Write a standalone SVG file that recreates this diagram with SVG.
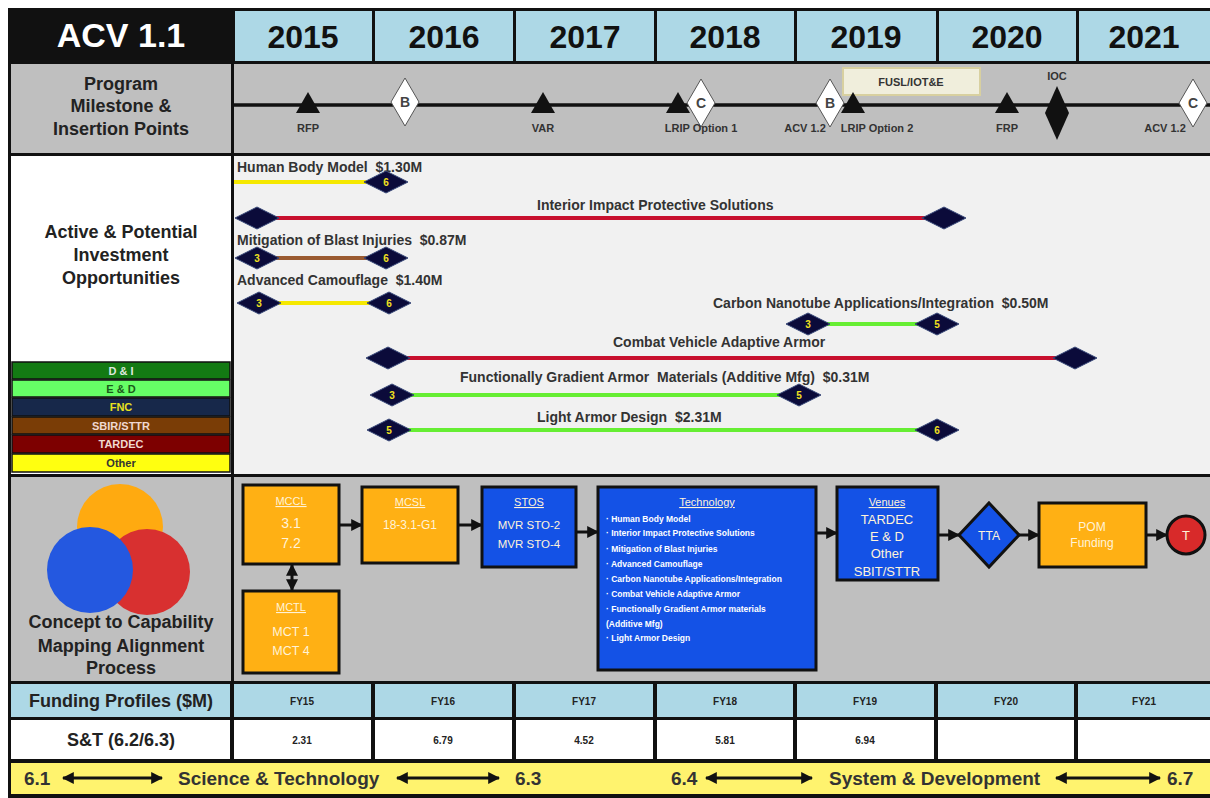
<svg xmlns="http://www.w3.org/2000/svg" width="1210" height="798" viewBox="0 0 1210 798">
<defs>
<style>
text{font-family:"Liberation Sans",Arial,sans-serif;font-weight:bold}
.yr{font-size:32px;fill:#111;text-anchor:middle}
.lbl{font-size:18px;fill:#222;text-anchor:middle}
.ms{font-size:11px;fill:#333;text-anchor:middle}
.dl{font-size:14px;fill:#444;text-anchor:middle}
.bar{font-size:14px;fill:#333;white-space:pre}
.dn{font-size:10px;fill:#f0e020;text-anchor:middle}
.leg{font-size:11px;text-anchor:middle}
.bx{fill:#ffb014;stroke:#111;stroke-width:3}
.bb{fill:#1452e6;stroke:#111;stroke-width:3}
.wt{fill:#fff3d8;text-anchor:middle;font-weight:normal}
.ww{fill:#ffffff;font-size:8.5px}
.fy{font-size:10px;fill:#222;text-anchor:middle}
.conn{stroke:#111;stroke-width:3;fill:none}
.blue{fill:#add8e6}
.grey{fill:#bfbfbf}
.ln{stroke-width:4;fill:none}
.bot{font-size:19px;fill:#333;white-space:pre}
</style>
<marker id="ah" viewBox="0 0 10 10" refX="9" refY="5" markerWidth="4" markerHeight="4" orient="auto-start-reverse"><path d="M0,0L10,5L0,10z" fill="#111"/></marker>
<polygon id="dm" points="-22,0 0,-11 22,0 0,11" fill="#0b0b3a" stroke="#3a4a7a" stroke-width="1"/>
<polygon id="tri" points="0,-12 12,9 -12,9" fill="#111"/>
<polygon id="wd" points="0,-24 14,0 0,24 -14,0" fill="#fff" stroke="#555" stroke-width="1"/>
</defs>
<rect x="0" y="0" width="1210" height="798" fill="#fff"/>
<rect x="8" y="8" width="1202" height="790" fill="#111"/>

<!-- header -->
<g id="header">
<text x="121" y="47" font-size="34" fill="#fff" text-anchor="middle">ACV 1.1</text>
<rect class="blue" x="235" y="11" width="137" height="50"/>
<rect class="blue" x="375" y="11" width="138" height="50"/>
<rect class="blue" x="516" y="11" width="138" height="50"/>
<rect class="blue" x="657" y="11" width="137" height="50"/>
<rect class="blue" x="797" y="11" width="139" height="50"/>
<rect class="blue" x="939" y="11" width="137" height="50"/>
<rect class="blue" x="1079" y="11" width="131" height="50"/>
<text class="yr" x="303" y="48">2015</text>
<text class="yr" x="444" y="48">2016</text>
<text class="yr" x="585" y="48">2017</text>
<text class="yr" x="725" y="48">2018</text>
<text class="yr" x="866" y="48">2019</text>
<text class="yr" x="1007" y="48">2020</text>
<text class="yr" x="1144" y="48">2021</text>
</g>

<!-- row backgrounds -->
<rect class="grey" x="11" y="64" width="220" height="89"/>
<rect class="grey" x="234" y="64" width="976" height="89"/>
<rect fill="#fff" x="11" y="156" width="220" height="318"/>
<rect fill="#f1f1f1" x="234" y="156" width="976" height="318"/>
<rect class="grey" x="11" y="477" width="220" height="204"/>
<rect class="grey" x="234" y="477" width="976" height="204"/>

<!-- milestones -->
<g id="milestones">
<text class="lbl" x="121" y="90">Program</text>
<text class="lbl" x="121" y="112">Milestone &amp;</text>
<text class="lbl" x="121" y="135">Insertion Points</text>
<line x1="234" y1="105" x2="1210" y2="105" stroke="#111" stroke-width="3.5"/>
<rect x="843" y="68" width="137" height="27" fill="#f0eedc" stroke="#d8d0a0" stroke-width="2"/>
<text class="ms" x="911" y="86" font-size="10">FUSL/IOT&amp;E</text>
<use href="#tri" x="308" y="104"/>
<text class="ms" x="308" y="132">RFP</text>
<use href="#wd" x="405" y="102"/>
<text class="dl" x="405" y="107">B</text>
<use href="#tri" x="543" y="104"/>
<text class="ms" x="543" y="132">VAR</text>
<use href="#tri" x="678" y="104"/>
<use href="#wd" x="701" y="103"/>
<text class="dl" x="701" y="108">C</text>
<text class="ms" x="701" y="132">LRIP Option 1</text>
<use href="#wd" x="830" y="103"/>
<text class="dl" x="830" y="108">B</text>
<use href="#tri" x="853" y="104"/>
<text class="ms" x="805" y="132">ACV 1.2</text>
<text class="ms" x="877" y="132">LRIP Option 2</text>
<use href="#tri" x="1007" y="104"/>
<text class="ms" x="1007" y="132">FRP</text>
<polygon points="1057,86 1069,113 1057,140 1045,113" fill="#111"/>
<text class="ms" x="1057" y="80">IOC</text>
<use href="#wd" x="1193" y="103"/>
<text class="dl" x="1193" y="108">C</text>
<text class="ms" x="1165" y="132">ACV 1.2</text>
</g>

<!-- investment opportunities -->
<g id="opportunities-label">
<text class="lbl" x="121" y="238">Active &amp; Potential</text>
<text class="lbl" x="121" y="261">Investment</text>
<text class="lbl" x="121" y="284">Opportunities</text>
</g>
<g id="legend" stroke="#111" stroke-width="1.5">
<rect x="12" y="362" width="218" height="17" fill="#137a13"/>
<rect x="12" y="380" width="218" height="17" fill="#66ff66"/>
<rect x="12" y="398" width="218" height="18" fill="#17284a"/>
<rect x="12" y="417" width="218" height="17" fill="#7a3d06"/>
<rect x="12" y="435" width="218" height="18" fill="#7d0000"/>
<rect x="12" y="454" width="218" height="18" fill="#ffff10"/>
</g>
<g id="legend-text">
<text class="leg" x="121" y="375" fill="#dfe8df">D &amp; I</text>
<text class="leg" x="121" y="393" fill="#1a5a1a">E &amp; D</text>
<text class="leg" x="121" y="411" fill="#e8e020">FNC</text>
<text class="leg" x="121" y="430" fill="#f0d8d0">SBIR/STTR</text>
<text class="leg" x="121" y="448" fill="#f0d8d0">TARDEC</text>
<text class="leg" x="121" y="467" fill="#333">Other</text>
</g>

<g id="bar-human-body">
<text class="bar" x="237" y="172">Human Body Model  $1.30M</text>
<line class="ln" x1="234" y1="182" x2="366" y2="182" stroke="#f5e800"/>
<use href="#dm" x="386" y="182"/><text class="dn" x="386" y="186">6</text>
</g>
<g id="bar-interior-impact">
<text class="bar" x="537" y="210">Interior Impact Protective Solutions</text>
<line class="ln" x1="257" y1="218" x2="944" y2="218" stroke="#c8102e"/>
<use href="#dm" x="257" y="218"/><use href="#dm" x="944" y="218"/>
</g>
<g id="bar-blast">
<text class="bar" x="237" y="245">Mitigation of Blast Injuries  $0.87M</text>
<line class="ln" x1="257" y1="258" x2="386" y2="258" stroke="#9a5a30"/>
<use href="#dm" x="257" y="258"/><text class="dn" x="257" y="262">3</text>
<use href="#dm" x="386" y="258"/><text class="dn" x="386" y="262">6</text>
</g>
<g id="bar-camouflage">
<text class="bar" x="237" y="285">Advanced Camouflage  $1.40M</text>
<line class="ln" x1="259" y1="303" x2="389" y2="303" stroke="#f5e800"/>
<use href="#dm" x="259" y="303"/><text class="dn" x="259" y="307">3</text>
<use href="#dm" x="389" y="303"/><text class="dn" x="389" y="307">6</text>
</g>
<g id="bar-carbon">
<text class="bar" x="713" y="308">Carbon Nanotube Applications/Integration  $0.50M</text>
<line class="ln" x1="808" y1="324" x2="937" y2="324" stroke="#66ee33"/>
<use href="#dm" x="808" y="324"/><text class="dn" x="808" y="328">3</text>
<use href="#dm" x="937" y="324"/><text class="dn" x="937" y="328">5</text>
</g>
<g id="bar-combat">
<text class="bar" x="613" y="347">Combat Vehicle Adaptive Armor</text>
<line class="ln" x1="388" y1="358" x2="1075" y2="358" stroke="#c8102e"/>
<use href="#dm" x="388" y="358"/><use href="#dm" x="1075" y="358"/>
</g>
<g id="bar-gradient">
<text class="bar" x="460" y="382">Functionally Gradient Armor  Materials (Additive Mfg)  $0.31M</text>
<line class="ln" x1="392" y1="395" x2="799" y2="395" stroke="#66ee33"/>
<use href="#dm" x="392" y="395"/><text class="dn" x="392" y="399">3</text>
<use href="#dm" x="799" y="395"/><text class="dn" x="799" y="399">5</text>
</g>
<g id="bar-light-armor">
<text class="bar" x="537" y="422">Light Armor Design  $2.31M</text>
<line class="ln" x1="389" y1="430" x2="937" y2="430" stroke="#66ee33"/>
<use href="#dm" x="389" y="430"/><text class="dn" x="389" y="434">5</text>
<use href="#dm" x="937" y="430"/><text class="dn" x="937" y="434">6</text>
</g>

<!-- concept to capability -->
<g id="concept-label">
<circle cx="120" cy="527" r="43" fill="#ffaa10"/>
<circle cx="147" cy="572" r="43" fill="#d83030"/>
<circle cx="90" cy="570" r="43" fill="#2458e0"/>
<text class="lbl" x="121" y="628">Concept to Capability</text>
<text class="lbl" x="121" y="652">Mapping Alignment</text>
<text class="lbl" x="121" y="674">Process</text>
</g>

<g id="connectors" class="conn" marker-end="url(#ah)">
<line x1="339" y1="525" x2="362" y2="525"/>
<line x1="458" y1="525" x2="482" y2="525"/>
<line x1="576" y1="532" x2="598" y2="532"/>
<line x1="816" y1="533" x2="837" y2="533"/>
<line x1="938" y1="535" x2="959" y2="535"/>
<line x1="1019" y1="535" x2="1039" y2="535"/>
<line x1="1146" y1="535" x2="1167" y2="535"/>
<line x1="292" y1="565" x2="292" y2="590" marker-start="url(#ah)"/>
</g>

<g id="node-mccl">
<rect class="bx" x="243" y="485" width="96" height="79"/>
<text class="wt" x="291" y="505" font-size="11" text-decoration="underline">MCCL</text>
<text class="wt" x="291" y="528" font-size="14">3.1</text>
<text class="wt" x="291" y="548" font-size="14">7.2</text>
</g>
<g id="node-mcsl">
<rect class="bx" x="362" y="487" width="96" height="76"/>
<text class="wt" x="410" y="506" font-size="11" text-decoration="underline">MCSL</text>
<text class="wt" x="410" y="529" font-size="12">18-3.1-G1</text>
</g>
<g id="node-stos">
<rect class="bb" x="482" y="487" width="94" height="80"/>
<text class="wt" x="529" y="506" font-size="11" fill="#fff" text-decoration="underline">STOS</text>
<text class="wt" x="529" y="529" font-size="11.5">MVR STO-2</text>
<text class="wt" x="529" y="548" font-size="11.5">MVR STO-4</text>
</g>
<g id="node-mctl">
<rect class="bx" x="243" y="591" width="96" height="82"/>
<text class="wt" x="291" y="611" font-size="11" text-decoration="underline">MCTL</text>
<text class="wt" x="291" y="636" font-size="12.5">MCT 1</text>
<text class="wt" x="291" y="655" font-size="12.5">MCT 4</text>
</g>
<g id="node-technology">
<rect class="bb" x="598" y="487" width="218" height="183"/>
<text class="wt" x="707" y="506" font-size="11" fill="#fff" text-decoration="underline">Technology</text>
<text class="ww" x="606" y="522">· Human Body Model</text>
<text class="ww" x="606" y="536">· Interior Impact Protective Solutions</text>
<text class="ww" x="606" y="552">· Mitigation of Blast Injuries</text>
<text class="ww" x="606" y="567">· Advanced Camouflage</text>
<text class="ww" x="606" y="582">· Carbon Nanotube Applications/Integration</text>
<text class="ww" x="606" y="597">· Combat Vehicle Adaptive Armor</text>
<text class="ww" x="606" y="612">· Functionally Gradient Armor materials</text>
<text class="ww" x="606" y="627">(Additive Mfg)</text>
<text class="ww" x="606" y="641">· Light Armor Design</text>
</g>
<g id="node-venues">
<rect class="bb" x="837" y="487" width="101" height="93"/>
<text class="wt" x="887" y="506" font-size="11" fill="#fff" text-decoration="underline">Venues</text>
<text class="wt" x="887" y="524" font-size="13">TARDEC</text>
<text class="wt" x="887" y="541" font-size="13">E &amp; D</text>
<text class="wt" x="887" y="558" font-size="13">Other</text>
<text class="wt" x="887" y="576" font-size="13">SBIT/STTR</text>
</g>
<g id="node-tta">
<polygon points="989,503 1019,535 989,567 959,535" fill="#1452e6" stroke="#111" stroke-width="3"/>
<text class="wt" x="989" y="540" font-size="12">TTA</text>
</g>
<g id="node-pom">
<rect class="bx" x="1039" y="503" width="107" height="64"/>
<text class="wt" x="1092" y="531" font-size="12">POM</text>
<text class="wt" x="1092" y="547" font-size="12">Funding</text>
</g>
<g id="node-t">
<circle cx="1186" cy="535" r="19" fill="#d82a2a" stroke="#111" stroke-width="3"/>
<text class="wt" x="1186" y="540" font-size="13" fill="#fff">T</text>
</g>

<!-- funding table -->
<g id="funding-table">
<rect class="blue" x="11" y="684" width="219" height="33"/>
<rect class="blue" x="234" y="684" width="137" height="33"/>
<rect class="blue" x="375" y="684" width="137" height="33"/>
<rect class="blue" x="516" y="684" width="137" height="33"/>
<rect class="blue" x="657" y="684" width="136" height="33"/>
<rect class="blue" x="797" y="684" width="137" height="33"/>
<rect class="blue" x="938" y="684" width="136" height="33"/>
<rect class="blue" x="1078" y="684" width="132" height="33"/>
<rect fill="#fff" x="11" y="720" width="219" height="39"/>
<rect fill="#fff" x="234" y="720" width="137" height="39"/>
<rect fill="#fff" x="375" y="720" width="137" height="39"/>
<rect fill="#fff" x="516" y="720" width="137" height="39"/>
<rect fill="#fff" x="657" y="720" width="136" height="39"/>
<rect fill="#fff" x="797" y="720" width="137" height="39"/>
<rect fill="#fff" x="938" y="720" width="136" height="39"/>
<rect fill="#fff" x="1078" y="720" width="132" height="39"/>
<text class="lbl" x="121" y="707" font-size="18" fill="#333">Funding Profiles ($M)</text>
<text class="lbl" x="121" y="746" font-size="17" fill="#333">S&amp;T (6.2/6.3)</text>
<text class="fy" x="302" y="705">FY15</text>
<text class="fy" x="443" y="705">FY16</text>
<text class="fy" x="584" y="705">FY17</text>
<text class="fy" x="725" y="705">FY18</text>
<text class="fy" x="865" y="705">FY19</text>
<text class="fy" x="1006" y="705">FY20</text>
<text class="fy" x="1144" y="705">FY21</text>
<text class="fy" x="302" y="744">2.31</text>
<text class="fy" x="443" y="744">6.79</text>
<text class="fy" x="584" y="744">4.52</text>
<text class="fy" x="725" y="744">5.81</text>
<text class="fy" x="865" y="744">6.94</text>
</g>

<!-- phase bar -->
<g id="phase-bar">
<rect x="11" y="763" width="1199" height="31" fill="#fff36e"/>
<text class="bot" x="24" y="785">6.1</text>
<text class="bot" x="178" y="785">Science &amp; Technology</text>
<text class="bot" x="515" y="785">6.3</text>
<text class="bot" x="671" y="785">6.4</text>
<text class="bot" x="829" y="785">System &amp; Development</text>
<text class="bot" x="1167" y="785">6.7</text>
<g class="conn" marker-start="url(#ah)" marker-end="url(#ah)">
<line x1="63" y1="778" x2="162" y2="778"/>
<line x1="397" y1="778" x2="499" y2="778"/>
<line x1="706" y1="778" x2="812" y2="778"/>
<line x1="1056" y1="778" x2="1160" y2="778"/>
</g>
</g>
</svg>
